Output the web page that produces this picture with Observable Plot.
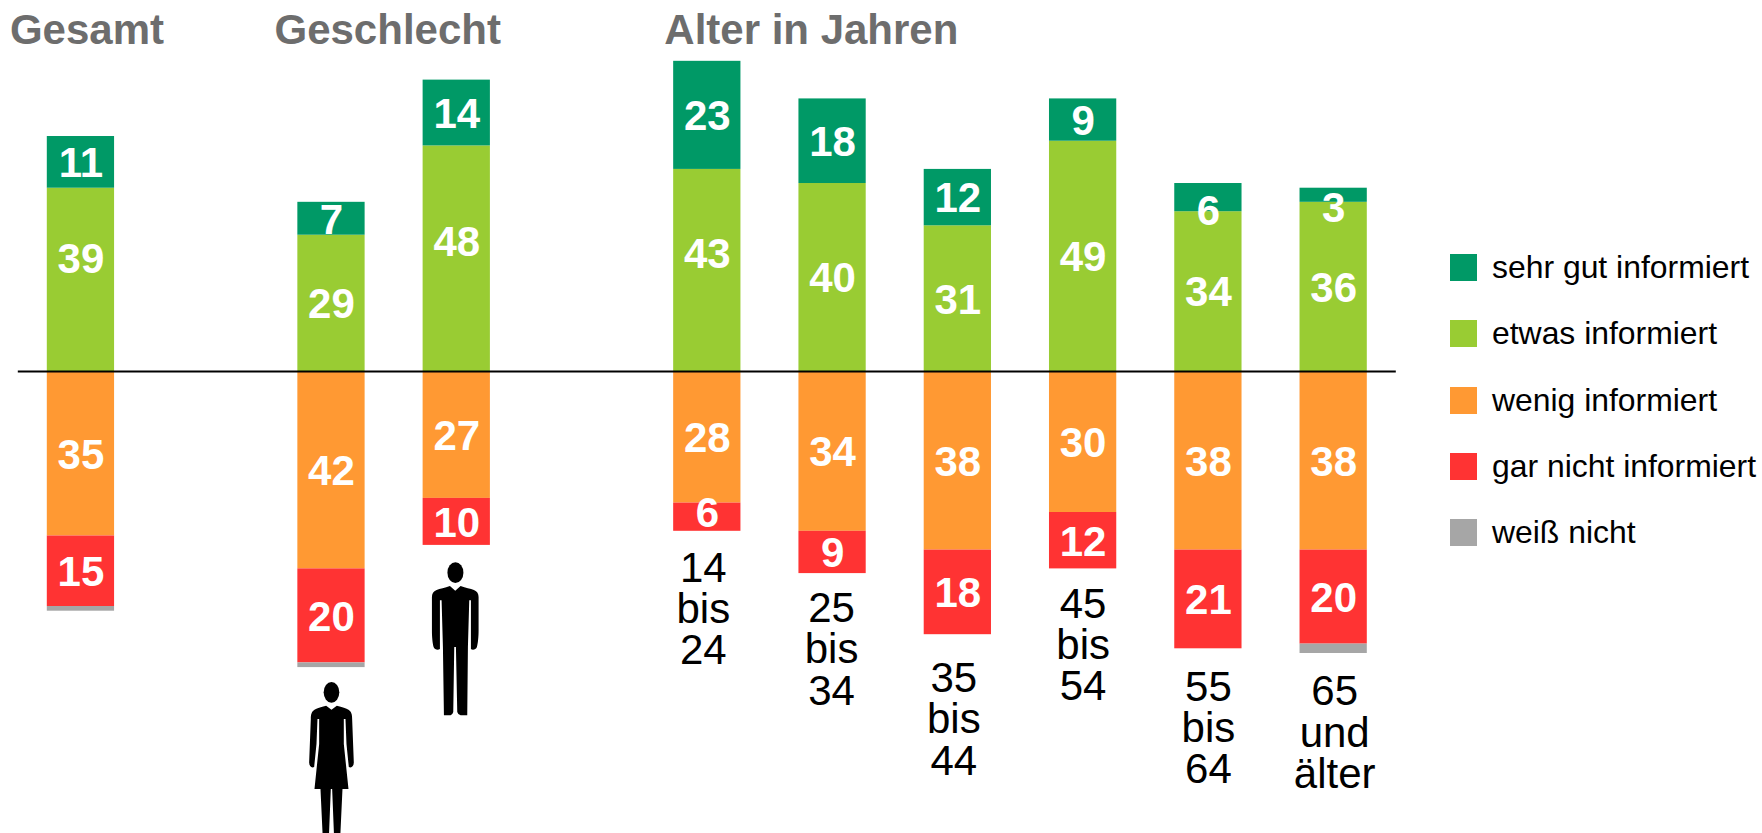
<!DOCTYPE html>
<html lang="de">
<head>
<meta charset="utf-8">
<script src="https://cdn.jsdelivr.net/npm/d3@7"></script>
<script src="https://cdn.jsdelivr.net/npm/@observablehq/plot@0.6"></script>
<style>
html,body{margin:0;padding:0;background:#fff;overflow:hidden}
#wrap{position:relative;width:1762px;height:833px;font-family:"Liberation Sans",Arial,sans-serif}
#wrap svg{display:block}
.lg{position:absolute;left:1450px;display:flex;align-items:center;height:27px;font-size:31.9px;white-space:nowrap;color:#000}
.lg i{display:block;width:27px;height:27px;margin-right:15px;flex:none}
</style>
</head>
<body>
<div id="wrap"></div>
<script>
// Categories (blank slots are the gaps between the groups)
const slots = ["Gesamt", "gap1", "Frauen", "Männer", "gap2", "14-24", "25-34", "35-44", "45-54", "55-64", "65+"];
const categories = ["Gesamt", "Frauen", "Männer", "14-24", "25-34", "35-44", "45-54", "55-64", "65+"];

// Series values (percent)
const sehrGut   = [11, 7, 14, 23, 18, 12, 9, 6, 3];
const etwas     = [39, 29, 48, 43, 40, 31, 49, 34, 36];
const wenig     = [35, 42, 27, 28, 34, 38, 30, 38, 38];
const garNicht  = [15, 20, 10, 6, 9, 18, 12, 21, 20];
const weissNicht = [1, 1, 0, 0, 0, 0, 0, 0, 2];

const seriesNames = ["sehr gut informiert", "etwas informiert", "wenig informiert", "gar nicht informiert", "weiß nicht"];
const seriesColors = ["#009966", "#99CC33", "#FF9933", "#FF3333", "#A6A6A6"];

const ageCategories = ["14-24", "25-34", "35-44", "45-54", "55-64", "65+"];
const ageLabels = ["14\nbis\n24", "25\nbis\n34", "35\nbis\n44", "45\nbis\n54", "55\nbis\n64", "65\nund\nälter"];

const groupTitles = ["Gesamt", "Geschlecht", "Alter in Jahren"];
const groupTitleSlots = ["Gesamt", "Frauen", "14-24"];

// Hand placement of labels in the original, kept apart from the data
const labelNudge = {"sehr gut informiert|55-64": -2.6, "sehr gut informiert|65+": -2.6,
  "etwas informiert|Gesamt": 4.7, "etwas informiert|Männer": 3.8, "etwas informiert|14-24": 3.7,
  "gar nicht informiert|14-24": 1};
const ageLabelGap = [16.7, 16.3, 18.2, 16.3, 17, 17];
const ageLabelDx = [-4, -1, -4, 0, 0, 1];
const titleDx = [-71, -57, -43];

// Build the stacked segments: positive stack above zero, negative below
const columns = [[etwas, sehrGut], [wenig, garNicht, weissNicht]];
const nameOf = s => s === etwas ? seriesNames[1] : s === sehrGut ? seriesNames[0] : s === wenig ? seriesNames[2] : s === garNicht ? seriesNames[3] : seriesNames[4];
const rows = [];
const bottoms = {};
categories.forEach((c, i) => {
  columns.forEach((stack, side) => {
    let base = 0;
    const sign = side === 0 ? 1 : -1;
    stack.forEach(s => {
      const v = s[i];
      if (!v) return;
      const series = nameOf(s);
      const y1 = base, y2 = base + sign * v;
      rows.push({c, series, v, y1, y2,
        ly: (y1 + y2) / 2 + (labelNudge[series + "|" + c] || 0) - 0.3,
        show: series !== seriesNames[4]});
      base = y2;
    });
    if (side === 1) bottoms[c] = base;
  });
});

const svgUri = (viewBox, inner) => "data:image/svg+xml," + encodeURIComponent(
  `<svg xmlns="http://www.w3.org/2000/svg" viewBox="${viewBox}">${inner}</svg>`);

const manSrc = svgUri("474 90 220 480",
  `<ellipse cx="584.5" cy="127" rx="24" ry="31"/>
   <path d="M568 167 L584 181 L600 167 C615 172 630 175 640 179 C650 183 654 190 654 200 L654 300 C654 320 652 340 649 350 C646 358 636 360 631 356 L631 210 L626 210 L622 350 L620 555 L600 555 Q592 553 590 545 L586 350 L581 350 L578 545 Q576 553 570 555 L550 555 L547 350 L543 210 L538 210 L538 356 C532 360 522 358 519 350 C516 340 514 320 514 300 L514 200 C514 190 518 183 528 179 C538 175 553 172 568 167 Z"/>`);
const womanSrc = svgUri("103 450 220 480",
  `<ellipse cx="213" cy="485" rx="23.5" ry="31"/>
   <path d="M197 525 L213 537 L229 525 C245 530 258 532 264 537 C272 542 275 550 275 565 L280 695 C280 708 272 713 265 709 L258 640 L255 565 L250 565 L250 640 L264 775 L246 775 L239 925 L221 925 L215 775 L211 775 L205 925 L187 925 L180 775 L162 775 L176 640 L176 565 L171 565 L168 640 L161 709 C154 713 146 708 146 695 L151 565 C151 550 154 542 162 537 C168 532 181 530 197 525 Z"/>`);

const chart = Plot.plot({
  width: 1762,
  height: 833,
  marginLeft: 17.8,
  marginRight: 366.2,
  marginTop: 0,
  marginBottom: 0,
  style: {fontFamily: "'Liberation Sans', Arial, sans-serif", background: "#fff", overflow: "hidden"},
  x: {type: "band", domain: slots, paddingInner: 0.463, paddingOuter: 0.2315, axis: null, round: false},
  y: {domain: [-98.3, 78.94], axis: null},
  color: {domain: seriesNames, range: seriesColors},
  marks: [
    Plot.barY(rows, {x: "c", y1: "y1", y2: "y2", fill: "series"}),
    Plot.ruleY([0], {stroke: "#000", strokeWidth: 1.8}),
    Plot.text(rows.filter(d => d.show), {x: "c", y: "ly", text: d => String(d.v), fill: "#fff", fontSize: 42, fontWeight: "bold"}),
    ...ageCategories.map((c, i) => Plot.text([c], {
      x: d => d, y: d => bottoms[d] - ageLabelGap[i], text: () => ageLabels[i],
      dx: ageLabelDx[i], fill: "#000", fontSize: 42, lineHeight: 0.98
    })),
    ...groupTitles.map((t, i) => Plot.text([t], {
      x: () => groupTitleSlots[i], y: () => 72.5, text: d => d, dx: titleDx[i],
      textAnchor: "start", fill: "#6d6d6d", fontSize: 42, fontWeight: "bold", letterSpacing: i === 2 ? 0.25 : 0
    })),
    Plot.image(["Männer"], {x: d => d, y: () => -57.2, src: () => manSrc, width: 73.33, height: 160, dx: -1.5}),
    Plot.image(["Frauen"], {x: d => d, y: () => -82.8, src: () => womanSrc, width: 73.33, height: 160})
  ]
});
const wrap = document.getElementById("wrap");
wrap.appendChild(chart);
seriesNames.forEach((n, i) => {
  const el = document.createElement("div");
  el.className = "lg";
  el.style.top = (254 + 66.25 * i) + "px";
  const sw = document.createElement("i");
  sw.style.background = seriesColors[i];
  el.appendChild(sw);
  el.appendChild(document.createTextNode(n));
  wrap.appendChild(el);
});
</script>
</body>
</html>
